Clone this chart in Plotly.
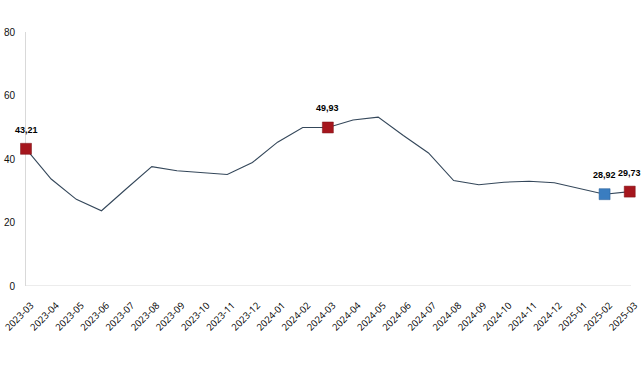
import plotly.graph_objects as go

months = ["2023-03","2023-04","2023-05","2023-06","2023-07","2023-08","2023-09","2023-10",
          "2023-11","2023-12","2024-01","2024-02","2024-03","2024-04","2024-05","2024-06",
          "2024-07","2024-08","2024-09","2024-10","2024-11","2024-12","2025-01","2025-02","2025-03"]
values = [43.21, 33.7, 27.3, 23.7, 30.7, 37.6, 36.3, 35.6, 35.1, 38.9, 45.3, 49.9, 49.93,
          52.3, 53.2, 47.4, 41.9, 33.2, 31.9, 32.7, 33.0, 32.5, 30.7, 28.92, 29.73]
red_idx = [0, 12, 24]
blue_idx = [23]
y_ticks = [0, 20, 40, 60, 80]

def lbl(v):
    return f"{v:.2f}".replace(".", ",")

x = list(range(len(months)))

fig = go.Figure()
fig.add_trace(go.Scatter(x=x, y=values, mode="lines",
                         line=dict(color="#34475a", width=1.1), hoverinfo="skip",
                         cliponaxis=False))
fig.add_trace(go.Scatter(x=[x[i] for i in red_idx], y=[values[i] for i in red_idx],
                         mode="markers",
                         marker=dict(symbol="square", size=11, color="#a5161d",
                                     line=dict(color="#7a1015", width=0.5)),
                         cliponaxis=False))
fig.add_trace(go.Scatter(x=[x[i] for i in blue_idx], y=[values[i] for i in blue_idx],
                         mode="markers",
                         marker=dict(symbol="square", size=11, color="#3a7dc0",
                                     line=dict(color="#2a5f95", width=0.5)),
                         cliponaxis=False))

annotations = []
for i in red_idx + blue_idx:
    annotations.append(dict(x=x[i], y=values[i], xref="x", yref="y", text=lbl(values[i]),
                            showarrow=False, yshift=19,
                            font=dict(family="Liberation Sans", size=9, color="#000000", weight="bold")))

fig.update_layout(
    width=641, height=380,
    margin=dict(l=26, r=10, t=32, b=94, autoexpand=False),
    paper_bgcolor="white", plot_bgcolor="white",
    showlegend=False,
    annotations=annotations,
    xaxis=dict(range=[0, 24.05], tickmode="array", tickvals=x, ticktext=months,
               tickangle=-45, showgrid=False, zeroline=False, showline=False,
               automargin=False, ticks="", ticklabelstandoff=11, ticklabelshift=5,
               ticklabeloverflow="allow",
               tickfont=dict(family="Open Sans", size=9.5, color="#000000")),
    yaxis=dict(range=[0, 80], tickvals=y_ticks, showgrid=False, zeroline=False,
               showline=True, linecolor="#d9d9d9", linewidth=1, ticks="",
               automargin=False, layer="below traces",
               ticklabelstandoff=8, ticklabeloverflow="allow",
               tickfont=dict(family="Liberation Sans", size=10, color="#111111")),
    shapes=[dict(type="line", xref="paper", yref="y", x0=0, x1=1, y0=0, y1=0,
                 layer="below", line=dict(color="#d9d9d9", width=1))],
)

fig.write_html("out.html", config={"displayModeBar": False},
               post_script="document.body.style.margin='0';document.body.style.padding='0';")
